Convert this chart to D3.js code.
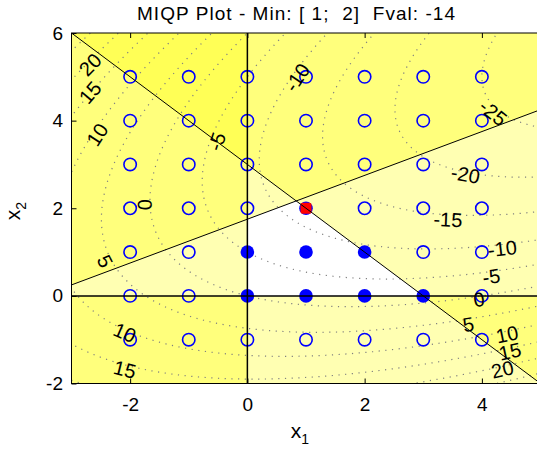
<!DOCTYPE html>
<html>
<head>
<meta charset="utf-8">
<script src="https://cdn.jsdelivr.net/npm/d3@7"></script>
<style>
body { margin: 0; background: #fff; }
text { font-family: "Liberation Sans", Arial, sans-serif; }
</style>
</head>
<body>
<div id="chart"></div>
<script>
// MIQP problem: min 0.5 x'Hx + f'x,  A x <= b,  x >= lb
const H = [[1, -1], [-1, 2]];
const fLin = [-2, -6];
const A = [[1, 1], [-1, 2]];
const b = [3, 3.5];
const lb = [0, 0];

// integer points shown
const xInts = [-2, -1, 0, 1, 2, 3, 4];
const yInts = [-1, 0, 1, 2, 3, 4, 5];
const feasiblePts = [[0, 0], [1, 0], [2, 0], [3, 0], [0, 1], [1, 1], [2, 1]];
const optPt = [1, 2];

// contour levels + where the labels sit
const levels = [-25, -20, -15, -10, -5, 0, 5, 10, 15, 20, 25];
const labelVals = [20, 15, 10, -5, 0, 5, 10, 15, -10, -25, -20, -15, -10, -5, 0, 5, 10, 15, 20];
const labelX = [-2.68, -2.68, -2.56, -0.52, -1.75, -2.43, -2.09, -2.09, 0.85, 4.19, 3.72, 3.42, 4.35, 4.16, 3.95, 3.77, 4.43, 4.48, 4.35];
const labelY = [5.28, 4.64, 3.68, 3.52, 2.08, 0.79, -0.84, -1.68, 4.98, 4.18, 2.77, 1.74, 1.08, 0.44, -0.08, -0.65, -0.88, -1.27, -1.68];

const xTicks = [-2, 0, 2, 4];
const yTicks = [-2, 0, 2, 4, 6];
const titleText = "MIQP Plot - Min: [ 1;  2]  Fval: -14";

const width = 537, height = 450;
const plot = { left: 71.5, right: 540.5, top: 33, bottom: 383.5 };

const svg = d3.select("#chart").append("svg")
    .attr("width", width)
    .attr("height", height);

const x = d3.scaleLinear().domain([-3, 5]).range([plot.left, plot.right]);
const y = d3.scaleLinear().domain([-2, 6]).range([plot.bottom, plot.top]);

svg.append("defs").append("clipPath").attr("id", "clip")
    .append("rect")
    .attr("x", plot.left).attr("y", plot.top)
    .attr("width", plot.right - plot.left).attr("height", plot.bottom - plot.top);

const g = svg.append("g").attr("clip-path", "url(#clip)");

function obj(px, py) {
    return 0.5 * (H[0][0] * px * px + 2 * H[0][1] * px * py + H[1][1] * py * py) + fLin[0] * px + fLin[1] * py;
}

// half planes that are violated (a.x > c), bounds included
const halfPlanes = A.map((a, i) => ({ a: a, c: b[i] }));
const bounds = [{ a: [-1, 0], c: -lb[0] }, { a: [0, -1], c: -lb[1] }];

function lineGeom(h) {
    const len = Math.hypot(h.a[0], h.a[1]);
    const n = [h.a[0] / len, h.a[1] / len];
    const p0 = [n[0] * h.c / len, n[1] * h.c / len];
    const d = [-n[1], n[0]];
    return { n, p0, d };
}

const L = 60;
const line = d3.line().x(p => x(p[0])).y(p => y(p[1]));

// shading of infeasible areas
g.append("g").selectAll("path")
    .data(halfPlanes.concat(bounds))
    .join("path")
    .attr("d", h => {
        const { n, p0, d } = lineGeom(h);
        const pts = [
            [p0[0] - L * d[0], p0[1] - L * d[1]],
            [p0[0] + L * d[0], p0[1] + L * d[1]],
            [p0[0] + L * d[0] + L * n[0], p0[1] + L * d[1] + L * n[1]],
            [p0[0] - L * d[0] + L * n[0], p0[1] - L * d[1] + L * n[1]]
        ];
        return line(pts) + "Z";
    })
    .attr("fill", "#ffff00")
    .attr("fill-opacity", 0.3)
    .attr("stroke", "none");

// objective contours
const gx0 = -4, gy0 = -3, span = 10, n = 250;
const step = span / (n - 1);
const values = new Array(n * n);
for (let j = 0; j < n; j++) {
    for (let i = 0; i < n; i++) {
        values[j * n + i] = obj(gx0 + i * step, gy0 + j * step);
    }
}
const contours = d3.contours().size([n, n]).thresholds(levels)(values);
const proj = d3.geoTransform({
    point: function (px, py) {
        this.stream.point(x(gx0 + (px - 0.5) * step), y(gy0 + (py - 0.5) * step));
    }
});
g.append("g").selectAll("path")
    .data(contours)
    .join("path")
    .attr("d", d3.geoPath(proj))
    .attr("fill", "none")
    .attr("stroke", "#808080")
    .attr("stroke-width", 1.2)
    .attr("stroke-dasharray", "1.2,5.5");

// integer points
const isFeas = (px, py) => feasiblePts.some(p => p[0] === px && p[1] === py);
const openPts = [];
yInts.forEach(py => xInts.forEach(px => {
    if (!isFeas(px, py) && !(px === optPt[0] && py === optPt[1])) openPts.push([px, py]);
}));

g.append("g").selectAll("circle")
    .data(openPts)
    .join("circle")
    .attr("cx", d => x(d[0])).attr("cy", d => y(d[1]))
    .attr("r", 6.2)
    .attr("fill", "none")
    .attr("stroke", "#0000ff")
    .attr("stroke-width", 1.6);

g.append("g").selectAll("circle")
    .data(feasiblePts.concat([optPt]))
    .join("circle")
    .attr("cx", d => x(d[0])).attr("cy", d => y(d[1]))
    .attr("r", 6.8)
    .attr("fill", "#0000ff");

g.append("rect")
    .attr("x", x(optPt[0]) - 5.5).attr("y", y(optPt[1]) - 5.5)
    .attr("width", 11).attr("height", 11).attr("rx", 2)
    .attr("fill", "#ff0000");

// constraint lines
g.append("g").selectAll("path")
    .data(halfPlanes)
    .join("path")
    .attr("d", h => {
        const { p0, d } = lineGeom(h);
        return line([[p0[0] - L * d[0], p0[1] - L * d[1]], [p0[0] + L * d[0], p0[1] + L * d[1]]]);
    })
    .attr("stroke", "#000")
    .attr("stroke-width", 1)
    .attr("fill", "none");

// bound lines
g.append("g").selectAll("path")
    .data(bounds)
    .join("path")
    .attr("d", h => {
        const { p0, d } = lineGeom(h);
        return line([[p0[0] - L * d[0], p0[1] - L * d[1]], [p0[0] + L * d[0], p0[1] + L * d[1]]]);
    })
    .attr("stroke", "#000")
    .attr("stroke-width", 1.5)
    .attr("fill", "none");

// contour labels, turned along the contour
const labels = labelVals.map((v, i) => ({ v: v, x: labelX[i], y: labelY[i] }));
g.append("g").selectAll("text")
    .data(labels)
    .join("text")
    .attr("transform", d => {
        const gxv = H[0][0] * d.x + H[0][1] * d.y + fLin[0];
        const gyv = H[1][0] * d.x + H[1][1] * d.y + fLin[1];
        const tx = -gyv * (x(1) - x(0));
        const ty = gxv * (y(1) - y(0));
        let ang = Math.atan2(ty, tx) * 180 / Math.PI;
        if (ang > 90) ang -= 180;
        if (ang < -90) ang += 180;
        return `translate(${x(d.x)},${y(d.y)}) rotate(${ang})`;
    })
    .attr("text-anchor", "middle")
    .attr("dy", "0.35em")
    .attr("font-size", 20)
    .attr("fill", "#000")
    .text(d => String(d.v));

// axes
const xAxis = d3.axisBottom(x).tickValues(xTicks).tickSize(-5).tickPadding(14).tickFormat(d => String(d));
const yAxis = d3.axisLeft(y).tickValues(yTicks).tickSize(-5).tickPadding(8.5).tickFormat(d => String(d));

const xa = svg.append("g").attr("transform", `translate(0,${plot.bottom})`).call(xAxis);
const xt = svg.append("g").attr("transform", `translate(0,${plot.top})`).call(d3.axisTop(x).tickValues(xTicks).tickSize(-5).tickFormat(""));
const ya = svg.append("g").attr("transform", `translate(${plot.left},0)`).call(yAxis);
[xa, xt, ya].forEach(a => {
    a.select(".domain").remove();
    a.selectAll("line").attr("stroke", "#000");
    a.selectAll("text").attr("font-size", 19).attr("fill", "#000")
        .attr("font-family", "'Liberation Sans', Arial, sans-serif");
});

svg.append("rect")
    .attr("x", plot.left).attr("y", plot.top)
    .attr("width", plot.right - plot.left).attr("height", plot.bottom - plot.top)
    .attr("fill", "none")
    .attr("stroke", "#000")
    .attr("stroke-width", 1);

// title
svg.append("text")
    .attr("xml:space", "preserve")
    .attr("x", 296).attr("y", 20)
    .attr("text-anchor", "middle")
    .attr("font-size", 19)
    .attr("textLength", 318)
    .attr("lengthAdjust", "spacing")
    .text(titleText);

// axis labels
const xl = svg.append("text")
    .attr("x", 300).attr("y", 438)
    .attr("text-anchor", "middle")
    .attr("font-size", 21);
xl.append("tspan").text("x");
xl.append("tspan").attr("font-size", 14).attr("dy", 6).text("1");

const yl = svg.append("text")
    .attr("transform", "translate(20,211) rotate(-90)")
    .attr("text-anchor", "middle")
    .attr("font-size", 21);
yl.append("tspan").text("x");
yl.append("tspan").attr("font-size", 14).attr("dy", 6).text("2");
</script>
</body>
</html>
